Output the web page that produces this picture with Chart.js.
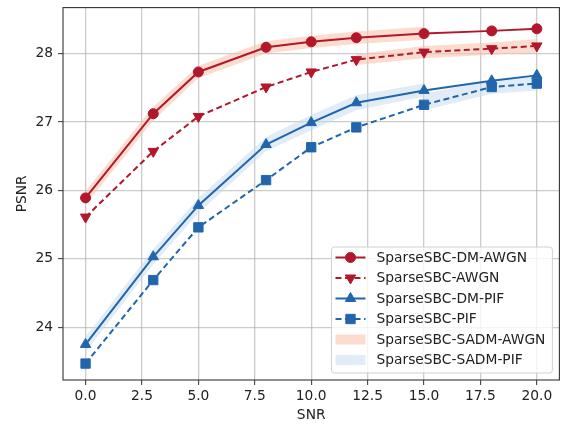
<!DOCTYPE html>
<html>
<head>
<meta charset="utf-8">
<script src="https://cdn.jsdelivr.net/npm/chart.js@4.4.1/dist/chart.umd.min.js"></script>
<style>
  html, body { margin: 0; padding: 0; background: #ffffff; }
  canvas { display: block; }
</style>
</head>
<body>
<canvas id="chart" width="567" height="426"></canvas>
<script>
// SNR sweep (dB) and measured PSNR per method
const snr = [0, 3, 5, 8, 10, 12, 15, 18, 20];
const dmAwgn = [25.89, 27.12, 27.73, 28.09, 28.17, 28.23, 28.29, 28.33, 28.36];
const awgn   = [25.61, 26.57, 27.08, 27.51, 27.73, 27.91, 28.02, 28.07, 28.11];
const dmPif  = [23.75, 25.03, 25.78, 26.67, 26.99, 27.28, 27.46, 27.60, 27.68];
const pif    = [23.47, 24.69, 25.46, 26.15, 26.63, 26.92, 27.25, 27.51, 27.56];

// SADM spread bands (lower / upper bounds), each drawn in two pieces
const sadmAwgnSnrA  = [0, 3, 5, 8, 10, 12, 15];
const sadmAwgnLowA  = [25.79, 27.02, 27.64, 28.00, 28.08, 28.14, 28.20];
const sadmAwgnHighA = [25.99, 27.22, 27.82, 28.18, 28.26, 28.32, 28.39];
const sadmAwgnSnrB  = [12, 15, 18, 20];
const sadmAwgnLowB  = [27.83, 27.93, 27.98, 28.01];
const sadmAwgnHighB = [27.99, 28.11, 28.16, 28.21];

const sadmPifSnrA  = [0, 3, 5, 8, 10, 12, 15];
const sadmPifLowA  = [23.64, 24.92, 25.67, 26.57, 26.88, 27.17, 27.37];
const sadmPifHighA = [23.86, 25.14, 25.89, 26.78, 27.10, 27.39, 27.56];
const sadmPifSnrB  = [15, 18, 20];
const sadmPifLowB  = [27.17, 27.41, 27.46];
const sadmPifHighB = [27.41, 27.61, 27.66];

// Axis ticks
const xTicks = [0, 2.5, 5, 7.5, 10, 12.5, 15, 17.5, 20];
const yTicks = [24, 25, 26, 27, 28];

const RED = '#b2182b';
const BLUE = '#2166ac';
const RED_BAND = 'rgba(250, 196, 174, 0.6)';
const BLUE_BAND = 'rgba(196, 218, 240, 0.5)';
const DASH = [6, 3.5];
const FONT = 'DejaVu Sans';
const FONT_PX = 13.8;
const TEXT = '#222222';

Chart.defaults.font.family = FONT;
Chart.defaults.font.size = FONT_PX;
Chart.defaults.color = TEXT;

function toPoints(xs, ys) {
  return xs.map((x, i) => ({ x: x, y: ys[i] }));
}

function lineSeries(label, ys, color, style, rotation, radius, dashed) {
  return {
    label: label,
    data: toPoints(snr, ys),
    borderColor: color,
    backgroundColor: color,
    borderWidth: 2,
    borderDash: dashed ? DASH : [],
    pointStyle: style,
    pointRotation: rotation,
    pointRadius: radius,
    pointHoverRadius: radius,
    pointBorderWidth: 1,
    pointBorderColor: color,
    pointBackgroundColor: color,
    tension: 0,
    fill: false,
    dashed: dashed
  };
}

function bandEdge(label, xs, ys, color, fill) {
  return {
    label: label,
    data: toPoints(xs, ys),
    borderWidth: 0,
    borderColor: 'rgba(0,0,0,0)',
    backgroundColor: color,
    pointRadius: 0,
    pointHoverRadius: 0,
    tension: 0,
    fill: fill
  };
}

const lineSets = [
  lineSeries('SparseSBC-DM-AWGN', dmAwgn, RED, 'circle', 0, 5, false),
  lineSeries('SparseSBC-AWGN', awgn, RED, 'triangle', 180, 6, true),
  lineSeries('SparseSBC-DM-PIF', dmPif, BLUE, 'triangle', 0, 6, false),
  lineSeries('SparseSBC-PIF', pif, BLUE, 'rect', 0, 6.6, true)
];

const bandSets = [
  bandEdge('awgnA-hi', sadmAwgnSnrA, sadmAwgnHighA, RED_BAND, '+1'),
  bandEdge('awgnA-lo', sadmAwgnSnrA, sadmAwgnLowA, RED_BAND, false),
  bandEdge('awgnB-hi', sadmAwgnSnrB, sadmAwgnHighB, RED_BAND, '+1'),
  bandEdge('awgnB-lo', sadmAwgnSnrB, sadmAwgnLowB, RED_BAND, false),
  bandEdge('pifA-hi', sadmPifSnrA, sadmPifHighA, BLUE_BAND, '+1'),
  bandEdge('pifA-lo', sadmPifSnrA, sadmPifLowA, BLUE_BAND, false),
  bandEdge('pifB-hi', sadmPifSnrB, sadmPifHighB, BLUE_BAND, '+1'),
  bandEdge('pifB-lo', sadmPifSnrB, sadmPifLowB, BLUE_BAND, false)
];

const legendEntries = [
  { label: 'SparseSBC-DM-AWGN', kind: 'line', ds: 0 },
  { label: 'SparseSBC-AWGN', kind: 'line', ds: 1 },
  { label: 'SparseSBC-DM-PIF', kind: 'line', ds: 2 },
  { label: 'SparseSBC-PIF', kind: 'line', ds: 3 },
  { label: 'SparseSBC-SADM-AWGN', kind: 'patch', color: RED_BAND },
  { label: 'SparseSBC-SADM-PIF', kind: 'patch', color: BLUE_BAND }
];

// Frame around the plot area plus a boxed legend in the lower-right corner
const frameAndLegend = {
  id: 'frameAndLegend',
  afterDatasetsDraw(chart) {
    const ctx = chart.ctx;
    const a = chart.chartArea;

    ctx.save();
    ctx.strokeStyle = '#333333';
    ctx.lineWidth = 1.1;
    ctx.setLineDash([]);
    ctx.strokeRect(a.left, a.top, a.right - a.left, a.bottom - a.top);

    ctx.font = FONT_PX + 'px "' + FONT + '"';
    let maxW = 0;
    legendEntries.forEach(e => { maxW = Math.max(maxW, ctx.measureText(e.label).width); });

    const rowH = 20.5;
    const padL = 4, handleW = 30, gap = 11, padR = 7;
    const boxW = padL + handleW + gap + maxW + padR;
    const boxH = 126;
    const boxRight = a.right - 7;
    const boxBottom = a.bottom - 7;
    const boxLeft = boxRight - boxW;
    const boxTop = boxBottom - boxH;

    ctx.beginPath();
    ctx.roundRect(boxLeft, boxTop, boxW, boxH, 3);
    ctx.fillStyle = 'rgba(255,255,255,0.8)';
    ctx.fill();
    ctx.strokeStyle = '#d0d0d0';
    ctx.lineWidth = 1;
    ctx.stroke();

    legendEntries.forEach((e, i) => {
      const cy = boxTop + 10.5 + i * rowH;
      const hx = boxLeft + padL;
      if (e.kind === 'line') {
        const ds = chart.data.datasets[e.ds];
        ctx.strokeStyle = ds.borderColor;
        ctx.lineWidth = 2;
        ctx.setLineDash(ds.dashed ? DASH : []);
        ctx.beginPath();
        ctx.moveTo(hx, cy);
        ctx.lineTo(hx + handleW, cy);
        ctx.stroke();
        ctx.setLineDash([]);
        ctx.fillStyle = ds.pointBackgroundColor;
        ctx.strokeStyle = ds.pointBorderColor;
        ctx.lineWidth = 1;
        Chart.helpers.drawPoint(ctx, {
          pointStyle: ds.pointStyle,
          rotation: ds.pointRotation,
          radius: ds.pointRadius,
          borderWidth: 1
        }, hx + handleW / 2, cy);
      } else {
        ctx.fillStyle = e.color;
        ctx.fillRect(hx, cy - 5, handleW, 10);
      }
      ctx.fillStyle = TEXT;
      ctx.textAlign = 'left';
      ctx.textBaseline = 'middle';
      ctx.fillText(e.label, hx + handleW + gap, cy + 0.5);
    });
    ctx.restore();
  }
};

const gridStyle = {
  color: 'rgba(170,170,170,0.6)',
  lineWidth: 1.3,
  tickColor: '#333333',
  tickLength: 5,
  tickWidth: 1
};

new Chart(document.getElementById('chart'), {
  type: 'line',
  data: { datasets: lineSets.concat(bandSets) },
  options: {
    responsive: false,
    animation: false,
    devicePixelRatio: 1,
    layout: { padding: { top: 6, right: 3, left: 0, bottom: 0 } },
    plugins: {
      legend: { display: false },
      tooltip: { enabled: false },
      filler: { propagate: false }
    },
    scales: {
      x: {
        type: 'linear',
        min: -1,
        max: 21,
        afterBuildTicks(scale) { scale.ticks = xTicks.map(v => ({ value: v })); },
        afterFit(scale) {
          scale.height = 46;
          scale.paddingLeft = 0;
          scale.paddingRight = 0;
        },
        ticks: {
          padding: 3,
          maxRotation: 0,
          autoSkip: false,
          callback: v => v.toFixed(1)
        },
        grid: gridStyle,
        border: { display: false },
        title: { display: true, text: 'SNR', padding: { top: 0, bottom: 2 } }
      },
      y: {
        type: 'linear',
        min: 23.23,
        max: 28.67,
        afterBuildTicks(scale) { scale.ticks = yTicks.map(v => ({ value: v })); },
        afterFit(scale) {
          scale.width = 63;
          scale.paddingTop = 0;
          scale.paddingBottom = 0;
        },
        ticks: {
          padding: 5,
          autoSkip: false,
          callback: v => String(v)
        },
        grid: gridStyle,
        border: { display: false },
        title: { display: true, text: 'PSNR', padding: { top: 14, bottom: 0 } }
      }
    }
  },
  plugins: [frameAndLegend]
});
</script>
</body>
</html>
